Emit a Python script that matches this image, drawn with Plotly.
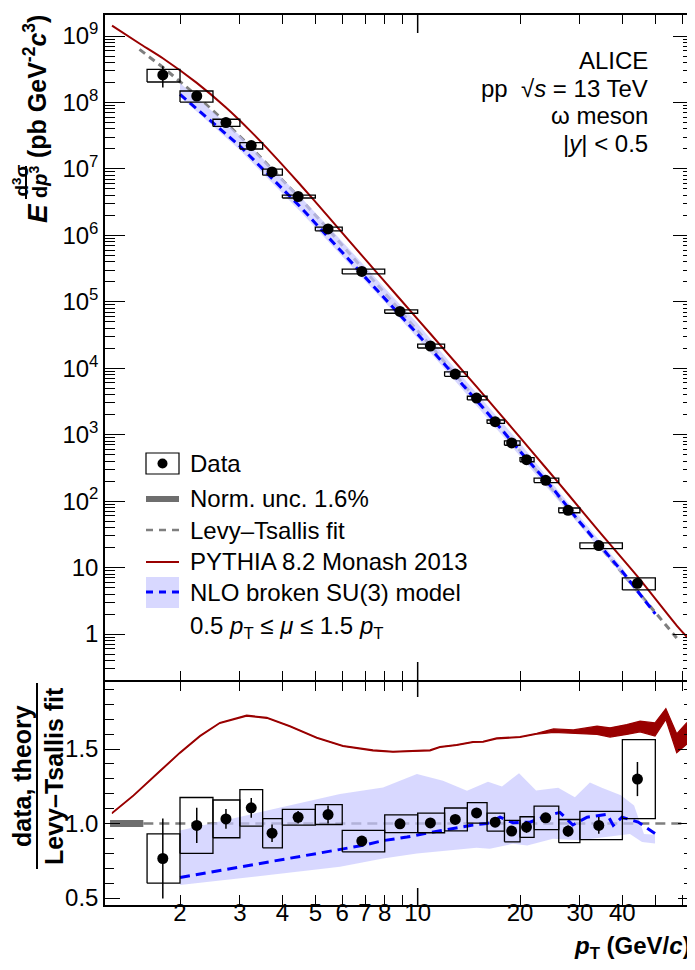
import plotly.graph_objects as go

# ---------------- data ----------------
pt_edges = [1.6, 2.0, 2.5, 3.0, 3.5, 4.0, 5.0, 6.0, 8.0, 10.0, 12.0, 14.0, 16.0,
            18.0, 20.0, 22.0, 26.0, 30.0, 40.0, 50.0]
pt_centers = [1.78, 2.24, 2.73, 3.24, 3.73, 4.45, 5.45, 6.85, 8.87, 10.9, 12.9,
              14.9, 16.9, 18.9, 20.9, 23.8, 27.7, 34.1, 44.3]
yield_data = [2.59e8, 1.25e8, 4.97e7, 2.24e7, 9.0e6, 3.84e6, 1.25e6, 2.86e5,
              7.15e4, 2.16e4, 8.18e3, 3.56e3, 1.57e3, 750, 421, 206, 72.8, 21.4, 5.8]
stat_rel = [0.35, 0.12, 0.065, 0.06, 0.063, 0.04, 0.057, 0.03, 0.015, 0.015,
            0.015, 0.015, 0.015, 0.03, 0.04, 0.02, 0.04, 0.057, 0.088]
sys_rel = [0.216, 0.19, 0.123, 0.111, 0.105, 0.051, 0.063, 0.082, 0.06, 0.066,
           0.075, 0.064, 0.06, 0.076, 0.071, 0.076, 0.082, 0.096, 0.204]
ratio_data = [0.765, 0.987, 1.031, 1.105, 0.935, 1.042, 1.06, 0.882, 0.998, 1.004,
              1.027, 1.071, 1.009, 0.949, 0.976, 1.038, 0.949, 0.987, 1.298]

# Levy-Tsallis fit (top panel)
fit_pt = [1.52, 1.78, 2.24, 2.73, 3.24, 3.73, 4.45, 5.45, 6.85, 8.87, 10.9, 12.9,
          14.9, 16.9, 18.9, 20.9, 23.8, 27.7, 34.1, 44.3, 57.8]
fit_val = [6.28e8, 3.39e8, 1.26e8, 4.97e7, 2.09e7, 1.00e7, 3.86e6, 1.24e6, 3.33e5,
           7.41e4, 2.21e4, 8.04e3, 3.41e3, 1.59e3, 813, 439, 197, 78.7, 21.7, 4.42, 0.871]
fit_ratio_pt = [1.56, 65.0]
fit_ratio = [1.0, 1.0]

# normalisation uncertainty bar
norm_pt = [1.245, 1.56]
norm_val = [1.0, 1.0]

# PYTHIA 8.2 Monash 2013 (top panel)
py_pt = [1.262, 1.52, 1.78, 2.24, 2.73, 3.24, 3.73, 4.45, 5.45, 6.85, 8.87, 10.9,
         12.9, 14.9, 16.9, 18.9, 20.9, 23.8, 27.7, 34.1, 44.3, 57.8, 62.5]
py_val = [1.43e9, 7.71e8, 4.63e8, 1.97e8, 8.38e7, 3.61e7, 1.70e7, 6.30e6, 1.93e6,
          4.99e5, 1.10e5, 3.30e4, 1.23e4, 5.28e3, 2.49e3, 1.28e3, 697, 318, 127,
          35.3, 7.36, 1.34, 0.859]

# PYTHIA / fit (bottom panel): lower and upper edge of the band
pyr_pt = [1.262, 1.458, 1.747, 2.0, 2.29, 2.62, 3.14, 3.60, 4.21, 5.05, 6.03, 6.62,
          7.39, 8.46, 9.69, 10.87, 11.63, 13.02, 14.55, 15.57, 17.08, 20.0, 22.4,
          25.1, 28.7, 33.7, 36.8, 41.2, 45.1, 49.9, 53.7, 57.8, 61.8, 64.6]
pyr_lo = [1.066, 1.184, 1.350, 1.472, 1.584, 1.672, 1.721, 1.706, 1.650, 1.572,
          1.517, 1.502, 1.488, 1.479, 1.484, 1.488, 1.510, 1.524, 1.544, 1.546,
          1.568, 1.577, 1.599, 1.612, 1.605, 1.598, 1.580, 1.598, 1.615, 1.587,
          1.698, 1.475, 1.531, 1.530]
pyr_hi = [1.072, 1.190, 1.356, 1.478, 1.590, 1.678, 1.727, 1.712, 1.656, 1.578,
          1.523, 1.508, 1.494, 1.485, 1.490, 1.494, 1.516, 1.530, 1.550, 1.552,
          1.574, 1.583, 1.605, 1.635, 1.628, 1.653, 1.642, 1.664, 1.687, 1.675,
          1.771, 1.602, 1.675, 1.670]

# NLO broken SU(3) model (top panel)
nlo_pt = [2.0, 3.0, 4.5, 6.0, 8.0, 10.0, 12.5, 16.0, 20.0, 25.0, 30.0, 40.0, 50.0]
nlo_val = [1.32e8, 2.21e7, 2.74e6, 5.58e5, 1.15e5, 3.25e4, 9.02e3, 2.16e3, 564,
           154, 48.0, 8.69, 2.01]
nlo_lo = [1.22e8, 1.92e7, 2.33e6, 4.81e5, 9.95e4, 2.82e4, 7.71e3, 1.80e3, 483,
          130, 42.6, 7.76, 1.87]
nlo_hi = [1.97e8, 3.17e7, 3.90e6, 8.11e5, 1.61e5, 4.70e4, 1.19e4, 2.76e3, 748,
          180, 57.5, 9.95, 1.91]

# NLO / fit (bottom panel)
nlor_pt = [2.0, 5.91, 6.91, 7.91, 9.30, 10.66, 12.45, 14.55, 16.0, 17.47, 19.07,
           21.4, 23.7, 26.2, 28.6, 31.5, 36.1, 37.6, 39.9, 44.5, 49.9]
nlor_val = [0.638, 0.825, 0.853, 0.885, 0.909, 0.935, 0.96, 0.99, 1.0, 1.042, 1.005,
            1.009, 1.048, 1.075, 0.99, 1.042, 1.062, 0.987, 1.042, 1.01, 0.933]
nlor_hi_pt = [2.0, 5.91, 7.91, 9.95, 11.87, 13.97, 16.1, 17.7, 19.87, 22.3, 25.9,
              29.0, 32.1, 34.8, 39.6, 43.3, 46.3, 49.9]
nlor_hi = [0.953, 1.198, 1.242, 1.333, 1.287, 1.22, 1.28, 1.248, 1.338, 1.222,
           1.24, 1.176, 1.275, 1.24, 1.19, 1.12, 0.93, 0.925]
nlor_lo_pt = [2.0, 5.91, 7.91, 9.95, 12.45, 14.9, 16.3, 19.07, 21.0, 25.0, 30.0,
              36.1, 42.1, 45.7, 49.9]
nlor_lo = [0.587, 0.709, 0.765, 0.798, 0.82, 0.838, 0.831, 0.864, 0.853, 0.898,
           0.887, 0.909, 0.93, 0.876, 0.865]

# axis ticks
x_tickvals = [2, 3, 4, 5, 6, 7, 8, 10, 20, 30, 40]
x_ticktext = ["2", "3", "4", "5", "6", "7", "8", "10", "20", "30", "40"]
x_minor = [9, 50, 60]
y_tickvals = [1, 10, 1e2, 1e3, 1e4, 1e5, 1e6, 1e7, 1e8, 1e9]
y_ticktext = ["1", "10", "10<sup>2</sup>", "10<sup>3</sup>", "10<sup>4</sup>",
              "10<sup>5</sup>", "10<sup>6</sup>", "10<sup>7</sup>", "10<sup>8</sup>",
              "10<sup>9</sup>"]
y_minor = [m * 10.0 ** e for e in range(-1, 10) for m in range(2, 10)]
r_tickvals = [0.5, 1.0, 1.5]
r_ticktext = ["0.5", "1.0", "1.5"]

# ---------------- styling ----------------
FONT = "Liberation Sans, Arial, Helvetica, sans-serif"
RED = "#990000"
BLUE = "#0000ff"
BAND = "rgba(200,200,255,0.7)"
GREY = "#7f7f7f"
OFF = 8                      # page body margin of the html page
W, H = 695 - OFF, 970 - OFF
ML, MR, MT, MB = 105 - OFF, 2, 15 - OFF, 65
PW, PH = W - ML - MR, H - MT - MB


def px(X):
    return (X - 105) / PW


def py(Y):
    return (905 - Y) / PH


SPLIT_TOP = py(680)
SPLIT_BOT = py(681.5)


def boxes(vals):
    xs, ys = [], []
    for i, v in enumerate(vals):
        lo, hi = pt_edges[i], pt_edges[i + 1]
        y0, y1 = v * (1 - sys_rel[i]), v * (1 + sys_rel[i])
        xs += [lo, hi, hi, lo, lo, None]
        ys += [y0, y0, y1, y1, y0, None]
    return xs, ys


fig = go.Figure()

# ---- top panel ----
fig.add_trace(go.Scatter(x=fit_pt, y=fit_val, mode="lines", xaxis="x", yaxis="y",
                         line=dict(color=GREY, width=3, dash="7px,5px")))
fig.add_trace(go.Scatter(x=nlo_pt + nlo_pt[::-1], y=nlo_hi + nlo_lo[::-1], mode="lines",
                         fill="toself", fillcolor=BAND, line=dict(width=0),
                         xaxis="x", yaxis="y"))
fig.add_trace(go.Scatter(x=nlo_pt, y=nlo_val, mode="lines", xaxis="x", yaxis="y",
                         line=dict(color=BLUE, width=3, dash="8px,5px")))
fig.add_trace(go.Scatter(x=py_pt, y=py_val, mode="lines", xaxis="x", yaxis="y",
                         line=dict(color=RED, width=2, shape="spline", smoothing=0.6)))
bx, by = boxes(yield_data)
fig.add_trace(go.Scatter(x=bx, y=by, mode="lines", xaxis="x", yaxis="y",
                         line=dict(color="black", width=1.3)))
fig.add_trace(go.Scatter(x=pt_centers, y=yield_data, mode="markers", xaxis="x", yaxis="y",
                         marker=dict(color="black", size=11),
                         error_y=dict(type="data", array=[v * s for v, s in zip(yield_data, stat_rel)],
                                      width=0, thickness=1.5, color="black")))

# ---- bottom panel ----
fig.add_trace(go.Scatter(x=norm_pt, y=norm_val, mode="lines", xaxis="x2", yaxis="y2",
                         line=dict(color="#6e6e6e", width=7)))
fig.add_trace(go.Scatter(x=fit_ratio_pt, y=fit_ratio, mode="lines", xaxis="x2", yaxis="y2",
                         line=dict(color=GREY, width=2.5, dash="10px,6px")))
fig.add_trace(go.Scatter(x=nlor_hi_pt + nlor_lo_pt[::-1], y=nlor_hi + nlor_lo[::-1],
                         mode="lines", fill="toself", fillcolor=BAND, line=dict(width=0),
                         xaxis="x2", yaxis="y2"))
fig.add_trace(go.Scatter(x=nlor_pt, y=nlor_val, mode="lines", xaxis="x2", yaxis="y2",
                         line=dict(color=BLUE, width=3, dash="10px,6px")))
fig.add_trace(go.Scatter(x=pyr_pt + pyr_pt[::-1], y=pyr_hi + pyr_lo[::-1], mode="lines",
                         fill="toself", fillcolor=RED, line=dict(color=RED, width=1.2),
                         xaxis="x2", yaxis="y2"))
rbx, rby = boxes(ratio_data)
fig.add_trace(go.Scatter(x=rbx, y=rby, mode="lines", xaxis="x2", yaxis="y2",
                         line=dict(color="black", width=1.3)))
fig.add_trace(go.Scatter(x=pt_centers, y=ratio_data, mode="markers", xaxis="x2", yaxis="y2",
                         marker=dict(color="black", size=11),
                         error_y=dict(type="data", array=[v * s for v, s in zip(ratio_data, stat_rel)],
                                      width=0, thickness=1.5, color="black")))
# empty trace that attaches the label-carrying x axis to the lower panel
fig.add_trace(go.Scatter(x=[], y=[], mode="markers", xaxis="x3", yaxis="y2",
                         hoverinfo="skip"))

xr = [0.0804, 1.8098]
TICKFONT = dict(family=FONT, size=24, color="black")
axis_common = dict(linecolor="black", linewidth=1.5, mirror="ticks", showline=True,
                   ticks="inside", tickcolor="black", tickwidth=1.3, showgrid=False,
                   zeroline=False, tickfont=TICKFONT)

fig.update_layout(
    width=W, height=H, showlegend=False,
    margin=dict(l=ML, r=MR, t=MT, b=MB, autoexpand=False),
    paper_bgcolor="white", plot_bgcolor="white",
    font=dict(family=FONT, color="black"),
    xaxis=dict(type="log", range=xr, domain=[0, 1], anchor="y", tickmode="array",
               tickvals=x_tickvals, ticktext=x_ticktext, ticklen=9,
               minor=dict(tickmode="array", tickvals=x_minor, ticks="inside", ticklen=9,
                          tickcolor="black", tickwidth=1.3),
               showticklabels=False, **axis_common),
    xaxis2=dict(type="log", range=xr, domain=[0, 1], anchor="y2", tickmode="array",
                tickvals=x_tickvals, ticktext=x_ticktext, ticklen=10,
                showticklabels=False,
                minor=dict(tickmode="array", tickvals=x_minor, ticks="inside", ticklen=10,
                           tickcolor="black", tickwidth=1.3),
                **axis_common),
    # carries the x tick labels, placed a little closer to the frame
    xaxis3=dict(type="log", range=xr, domain=[0, 1], overlaying="x2", anchor="free",
                position=py(896), side="bottom", tickmode="array", tickvals=x_tickvals,
                ticktext=x_ticktext, ticks="", showline=False, showgrid=False,
                zeroline=False, tickfont=TICKFONT),
    yaxis=dict(type="log", range=[-0.692, 9.316], domain=[SPLIT_TOP, 1], anchor="x",
               tickmode="array", tickvals=y_tickvals, ticktext=y_ticktext, ticklen=20,
               minor=dict(tickmode="array", tickvals=y_minor, ticks="inside", ticklen=10,
                          tickcolor="black", tickwidth=1.2),
               **axis_common),
    yaxis2=dict(range=[0.453, 1.953], domain=[0, SPLIT_BOT], anchor="x2",
                tickmode="array", tickvals=r_tickvals, ticktext=r_ticktext, ticklen=15,
                minor=dict(dtick=0.1, tick0=0.5, ticks="inside", ticklen=9,
                           tickcolor="black", tickwidth=1.2),
                **axis_common),
)

shapes = []
# longer major tick at 10 on the x axes
for y0, y1 in [(py(15), py(33)), (py(680), py(662)), (py(680), py(697)), (py(905), py(888))]:
    shapes.append(dict(type="line", xref="x", yref="paper", x0=10, x1=10, y0=y0, y1=y1,
                       line=dict(color="black", width=1.5)))
# fraction bars of the y titles
shapes.append(dict(type="line", xref="paper", yref="paper", x0=px(26), x1=px(26),
                   y0=py(166), y1=py(199), line=dict(color="black", width=2)))
shapes.append(dict(type="line", xref="paper", yref="paper", x0=px(37), x1=px(37),
                   y0=py(683), y1=py(869), line=dict(color="black", width=2)))
# legend symbols
LX0, LX1 = px(146), px(179)
shapes.append(dict(type="rect", xref="paper", yref="paper", x0=LX0, x1=LX1,
                   y0=py(474), y1=py(453), line=dict(color="black", width=1.2)))
shapes.append(dict(type="circle", xref="paper", yref="paper", xsizemode="pixel",
                   ysizemode="pixel", xanchor=px(162.5), yanchor=py(463.5),
                   x0=-5, x1=5, y0=-5, y1=5, fillcolor="black", line=dict(width=0)))
shapes.append(dict(type="line", xref="paper", yref="paper", x0=LX0, x1=LX1,
                   y0=py(499), y1=py(499), line=dict(color="#6e6e6e", width=6)))
shapes.append(dict(type="line", xref="paper", yref="paper", x0=LX0, x1=LX1,
                   y0=py(530), y1=py(530), line=dict(color=GREY, width=2.5, dash="7px,6px")))
shapes.append(dict(type="line", xref="paper", yref="paper", x0=LX0, x1=LX1,
                   y0=py(562), y1=py(562), line=dict(color=RED, width=2)))
shapes.append(dict(type="rect", xref="paper", yref="paper", x0=LX0, x1=LX1,
                   y0=py(608), y1=py(577), fillcolor=BAND, line=dict(width=0)))
shapes.append(dict(type="line", xref="paper", yref="paper", x0=LX0, x1=LX1,
                   y0=py(592), y1=py(592), line=dict(color=BLUE, width=3, dash="7px,6px")))
fig.update_layout(shapes=shapes)


def ann(text, X, Y, size, xanchor="center", angle=0):
    fig.add_annotation(text=text, x=px(X), y=py(Y), xref="paper", yref="paper",
                       xanchor=xanchor, yanchor="middle", showarrow=False,
                       textangle=angle, font=dict(family=FONT, size=size, color="black"))


# y titles
ann("<b><i>E</i></b>", 37, 213, 28, angle=-90)
ann("<b>d<sup>3</sup>σ</b>", 20.5, 181, 19, angle=-90)
ann("<b>d<i>p</i><sup>3</sup></b>", 38, 182, 20, angle=-90)
ann("<b>(pb GeV<sup>-2</sup><i>c</i><sup>3</sup>)</b>", 35, 87, 25, angle=-90)
ann("<b>data, theory</b>", 22, 776, 25, angle=-90)
ann("<b>Levy–Tsallis fit</b>", 54, 776, 25, angle=-90)
# x title
ann("<b><i>p</i><sub>T</sub> (GeV/<i>c</i>)</b>", 693, 948, 24, xanchor="right")
# system text
ann("ALICE", 650, 60, 24, xanchor="right")
ann("pp  √<i>s</i> = 13 TeV", 650, 88, 24, xanchor="right")
ann("ω meson", 650, 116, 24, xanchor="right")
ann("|<i>y</i>| < 0.5", 650, 144, 24, xanchor="right")
# legend text
ann("Data", 188, 463.5, 24, xanchor="left")
ann("Norm. unc. 1.6%", 188, 499, 24, xanchor="left")
ann("Levy–Tsallis fit", 188, 530, 24, xanchor="left")
ann("PYTHIA 8.2 Monash 2013", 188, 562, 24, xanchor="left")
ann("NLO broken SU(3) model", 188, 592, 24, xanchor="left")
ann("0.5 <i>p</i><sub>T</sub> ≤ <i>μ</i> ≤ 1.5 <i>p</i><sub>T</sub>", 188, 627, 24, xanchor="left")

fig.write_html("out.html")
